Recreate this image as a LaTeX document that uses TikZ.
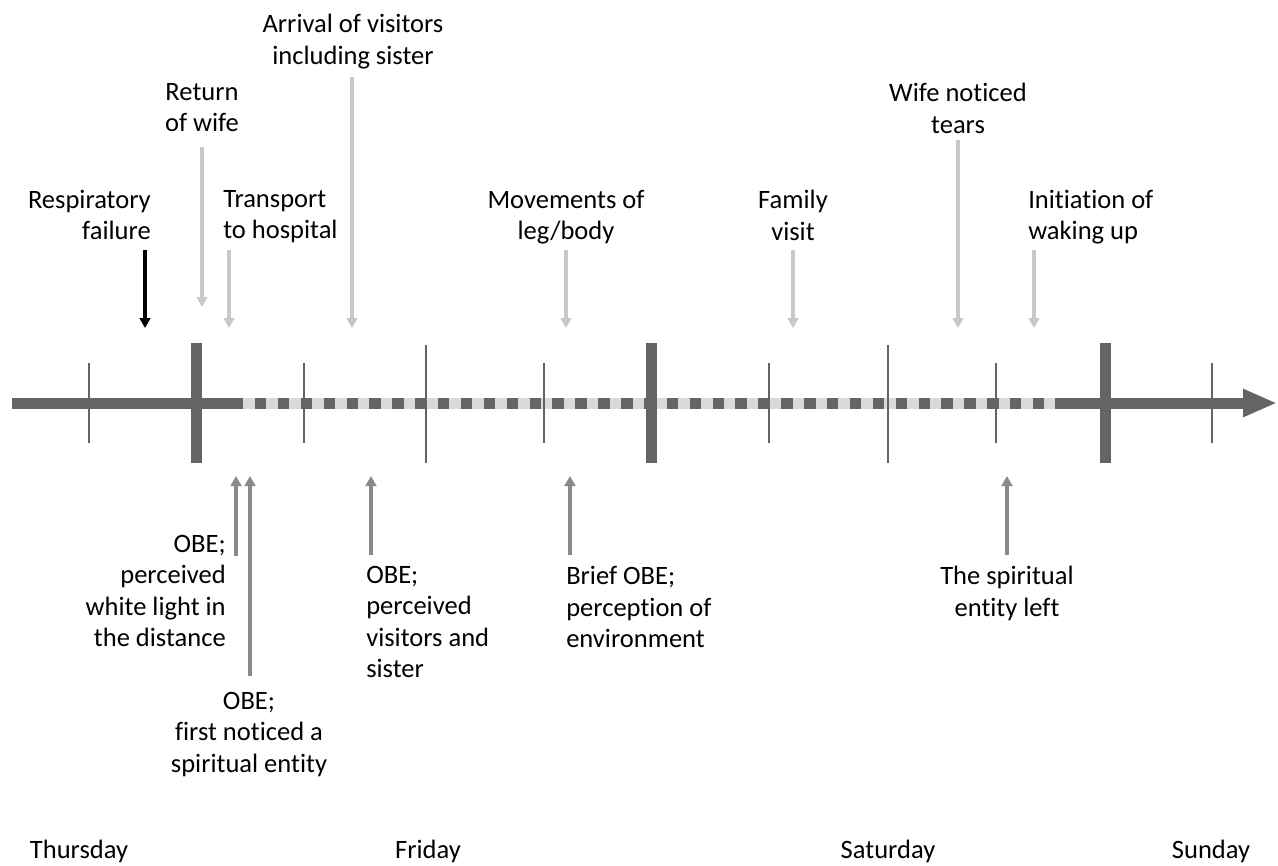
\documentclass[tikz,border=0pt]{standalone}
\usepackage{fontspec}
\setmainfont{Carlito}[Ligatures=NoCommon]
\usetikzlibrary{arrows.meta}
\definecolor{axisgray}{RGB}{100,100,100}
\definecolor{gaplight}{RGB}{217,217,217}
\definecolor{evtgray}{RGB}{200,200,200}
\definecolor{obegray}{RGB}{138,138,138}
\begin{document}
\begin{tikzpicture}[x=0.75pt, y=-0.75pt, font=\fontsize{19.9}{23.6}\selectfont,
    >={Triangle[length=7.5pt,width=8pt]},
    lbl/.style={inner sep=0pt},
    evt/.style={->, evtgray, line width=3pt},
    obe/.style={->, obegray, line width=3pt},
    daytick/.style={axisgray, line width=8.25pt},
    hrtick/.style={axisgray, line width=1.5pt}]
  \useasboundingbox (0,0) rectangle (1278,865);
  % --- Time axis ---
  \coordinate (ax0) at (12,403);
  \coordinate (ax1) at (1277,403);
  \draw[axisgray, line width=8.25pt, -{Triangle[length=25.5pt,width=19.5pt]}] (ax0) -- (ax1);
  % unconscious period (dashed part)
  \coordinate (un0) at (243,403); \coordinate (un1) at (1055,403);
  \coordinate (dd0) at (255,403); \coordinate (dd1) at (1044,403);
  \draw[gaplight, line width=8.25pt] (un0) -- (un1);
  \draw[axisgray, line width=8.25pt, dash pattern=on 8.58pt off 8.58pt] (dd0) -- (dd1);
  % --- Ticks ---
  \foreach \x in {196,651,1105} \draw[daytick] (\x,343) -- (\x,463);
  \foreach \x in {426,888} \draw[hrtick] (\x,345) -- (\x,463);
  \foreach \x in {89,304,544,769,996,1212} \draw[hrtick] (\x,363) -- (\x,443);
  % --- Events above the axis ---
  \coordinate (resp-a) at (145,250); \coordinate (resp-b) at (145,328);
  \draw[->, black, line width=3pt] (resp-a) -- (resp-b);
  \foreach \n/\x/\ya/\yb in {return/202/147/307, transport/229/250/328, arrival/352/77/328,
      movements/566/250/328, family/793/250/328, tears/958/140/328, waking/1034/250/328}{
    \coordinate (\n-a) at (\x,\ya);
    \coordinate (\n-b) at (\x,\yb);
    \draw[evt] (\n-a) -- (\n-b);
  }
  \node[lbl, anchor=north, align=center] (arrival) at (353,14) {Arrival of visitors\\including sister};
  \node[lbl, anchor=north, align=center] (return) at (202,83) {Return\\of wife};
  \node[lbl, anchor=north, align=center] (tears) at (958,83) {Wife noticed\\tears};
  \node[lbl, anchor=north east, align=right] (resp) at (151,190) {Respiratory\\failure};
  \node[lbl, anchor=north west, align=left] (transport) at (223,190) {Transport\\to hospital};
  \node[lbl, anchor=north, align=center] (movements) at (566,190) {Movements of\\leg/body};
  \node[lbl, anchor=north, align=center] (family) at (793,190) {Family\\visit};
  \node[lbl, anchor=north west, align=left] (waking) at (1028,190) {Initiation of\\waking up};
  % --- Experiences below the axis ---
  \foreach \n/\x/\ya in {light/236/556, entity/250/676, visitors/371/555, brief/570/555, left/1007/555}{
    \coordinate (\n-a) at (\x,\ya);
    \coordinate (\n-b) at (\x,476);
    \draw[obe] (\n-a) -- (\n-b);
  }
  \node[lbl, anchor=north east, align=right] (light) at (226,535) {OBE;\\perceived\\white light in\\the distance};
  \node[lbl, anchor=north, align=center] (entity) at (249,692) {OBE;\\first noticed a\\spiritual entity};
  \node[lbl, anchor=north west, align=left] (visitors) at (366,566) {OBE;\\perceived\\visitors and\\sister};
  \node[lbl, anchor=north west, align=left] (brief) at (566,566) {Brief OBE;\\perception of\\environment};
  \node[lbl, anchor=north, align=center] (left) at (1007,566) {The spiritual\\entity left};
  % --- Days ---
  \foreach \n/\x in {Thursday/79, Friday/428, Saturday/888, Sunday/1211}
    \node[lbl, anchor=base] (\n) at (\x,858) {\n};
\end{tikzpicture}
\end{document}
